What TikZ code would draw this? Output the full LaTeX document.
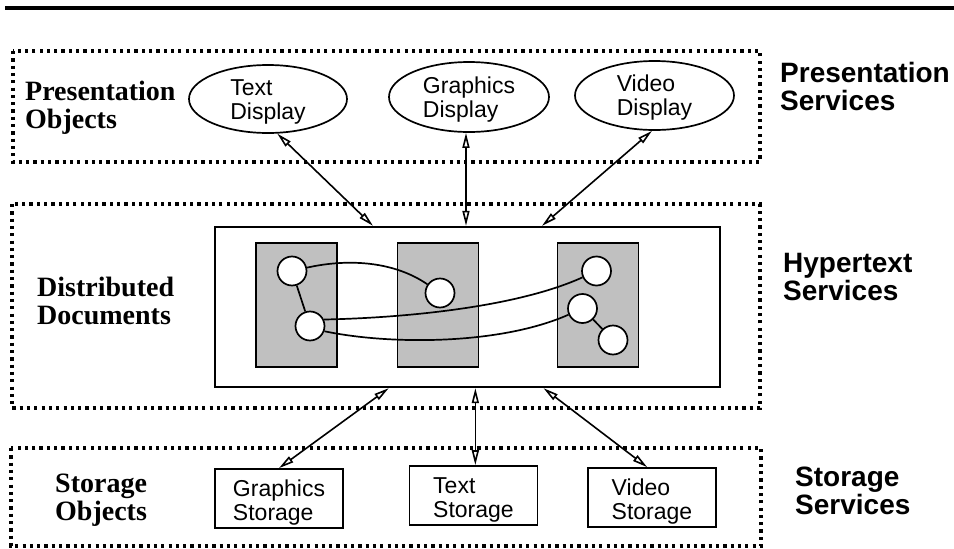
\documentclass[tikz,border=0pt]{standalone}
\usepackage{fontspec}
\setmainfont{Liberation Serif}
\setsansfont{Liberation Sans}
\usetikzlibrary{arrows.meta,shapes.geometric,calc}
\definecolor{docgray}{RGB}{192,192,192}
% struts that set how far the first line sits below the top of a label
\newcommand\ellstrut{\rule{0pt}{21pt}}
\newcommand\boxstrut{\rule{0pt}{24pt}}
\begin{document}
\begin{tikzpicture}[x=1pt,y=-1pt,
  layer/.style={line width=3.2pt,dash pattern=on 3.2pt off 4.1pt},
  tiername/.style={anchor=base west,align=left,inner sep=0pt,
    font=\rmfamily\bfseries\fontsize{28}{28}\selectfont},
  servicename/.style={anchor=base west,align=left,inner sep=0pt,
    font=\sffamily\bfseries\fontsize{28}{27.3}\selectfont},
  display/.style={ellipse,draw,line width=1.7pt,inner sep=-10pt,align=left,
    font=\sffamily\fontsize{23}{24}\selectfont},
  store/.style={rectangle,draw,line width=1.7pt,minimum width=128pt,
    minimum height=59pt,inner sep=0pt,align=left,
    font=\sffamily\fontsize{23}{24}\selectfont},
  docframe/.style={rectangle,draw,line width=1.7pt},
  docpage/.style={rectangle,draw,line width=1.7pt,fill=docgray,
    minimum width=81pt,minimum height=124pt},
  anchorpt/.style={circle,draw,line width=1.7pt,fill=white,
    minimum size=29pt,inner sep=0pt},
  link/.style={line width=1.7pt},
  access/.style={line width=1.6pt,
    {Triangle[open,length=15pt,width=7pt]}-{Triangle[open,length=15pt,width=7pt]}},
]
\useasboundingbox (0,0) rectangle (954,549);

% rule across the top
\draw[line width=4pt] (5,7.5) -- (954,7.5);

% service layers
\draw[layer] (13,51) rectangle (760,162);
\draw[layer] (12,204) rectangle (760,408);
\draw[layer] (11,448) rectangle (761,546);

% layer names (base anchor sits on the last line)
\node[tiername] (presobj) at (25,128) {Presentation\\Objects};
\node[tiername] (distdocs) at (37,324) {Distributed\\Documents};
\node[tiername] (storobj) at (55,520) {Storage\\Objects};
\node[servicename] (pressvc) at (780,110) {Presentation\\Services};
\node[servicename] (hypsvc) at (783,300) {Hypertext\\Services};
\node[servicename] (storsvc) at (795,514) {Storage\\Services};

% presentation objects
\node[display,minimum width=158pt,minimum height=68pt] (textdisp) at (268,99) {\ellstrut Text\\Display};
\node[display,minimum width=160pt,minimum height=70pt] (graphdisp) at (469,97) {\ellstrut Graphics\\Display};
\node[display,minimum width=159pt,minimum height=69pt] (viddisp) at (654.5,95.5) {\ellstrut Video\\Display};

% distributed documents
\node[docframe,minimum width=505pt,minimum height=160.6pt] (docs) at (467.5,307) {};
\node[docpage] (page1) at (296.3,304.7) {};
\node[docpage] (page2) at (438,304.7) {};
\node[docpage] (page3) at (598,304.7) {};

\node[anchorpt] (c1) at (292,271) {};
\node[anchorpt] (c2) at (310,326) {};
\node[anchorpt] (c3) at (440,293) {};
\node[anchorpt] (c4) at (596.5,271) {};
\node[anchorpt] (c5) at (582.5,308.5) {};
\node[anchorpt] (c6) at (613,340) {};

\draw[link] (c1) -- (c2);
\draw[link] (c5) -- (c6);
\draw[link] (c1) .. controls (350,258) and (395,262) .. (c3);
\draw[link] (c2.25) .. controls (400,318) and (515,308) .. (c4);
\draw[link] (c2.-20) .. controls (390,345) and (500,345) .. (c5);

% storage objects
\node[store] (gstore) at (279,498.5) {\boxstrut Graphics\\Storage};
\node[store] (tstore) at (473.5,495.5) {\boxstrut Text\\Storage};
\node[store] (vstore) at (652,497.5) {\boxstrut Video\\Storage};

% access paths between the layers
\coordinate (dt1) at ($(docs.north west)!0.3135!(docs.north east)$);
\coordinate (dt2) at ($(docs.north west)!0.497!(docs.north east)$);
\coordinate (dt3) at ($(docs.north west)!0.647!(docs.north east)$);
\coordinate (db1) at ($(docs.south west)!0.3446!(docs.south east)$);
\coordinate (db2) at ($(docs.south west)!0.5155!(docs.south east)$);
\coordinate (db3) at ($(docs.south west)!0.650!(docs.south east)$);
\coordinate (vs) at ($(vstore.north west)!0.463!(vstore.north east)$);

\draw[access] (dt1) -- (textdisp.-75);
\draw[access] (dt2) -- (dt2 |- graphdisp.south);
\draw[access] (dt3) -- (viddisp.-94);
\draw[access] (db1) -- (gstore.north);
\draw[access] (db2) -- (db2 |- tstore.north);
\draw[access] (db3) -- (vs);
\end{tikzpicture}
\end{document}
